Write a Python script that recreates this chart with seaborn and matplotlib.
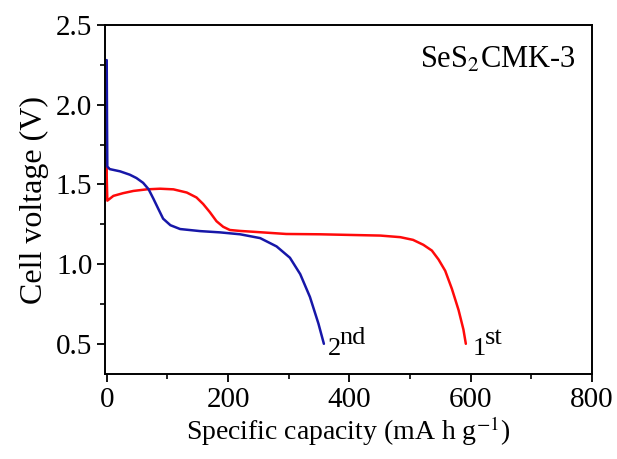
# Discharge profiles of SeS2/CMK-3, 1st and 2nd cycle

import pandas as pd
import matplotlib
matplotlib.use("Agg")
import matplotlib.pyplot as plt
import seaborn as sns
from matplotlib.ticker import MultipleLocator

# Values (capacity in mA h g-1, voltage in V)
cap_1st = [0, 0, 1, 11, 27, 44, 66, 88, 110, 132, 148, 159, 170, 181, 192, 203, 220, 241, 296, 352, 401,
           451, 484, 505, 522, 536, 547, 558, 569, 580, 588, 592]
volt_1st = [1.694, 1.55, 1.398, 1.428, 1.445, 1.459, 1.469, 1.473, 1.469, 1.449, 1.418, 1.377, 1.326, 1.269, 1.234, 1.214, 1.208, 1.203, 1.189, 1.187, 1.183,
            1.179, 1.169, 1.152, 1.121, 1.085, 1.029, 0.958, 0.845, 0.712, 0.59, 0.50]

cap_2nd = [0, 0.5, 1, 5, 22, 38, 49, 60, 69, 77, 85, 93, 105, 121, 154, 187, 220, 253, 280, 302, 319, 335, 349, 358]
volt_2nd = [2.28, 1.9, 1.612, 1.596, 1.582, 1.561, 1.54, 1.51, 1.47, 1.41, 1.347, 1.285, 1.244, 1.22, 1.207, 1.199, 1.187, 1.163, 1.111, 1.04, 0.937, 0.794, 0.627, 0.50]

cycle_base = ["1", "2"]
cycle_sup = ["st", "nd"]
sample_name = "SeS$_2$CMK-3"

df = pd.concat([
    pd.DataFrame({"cap": cap_1st, "volt": volt_1st, "cycle": "1st"}),
    pd.DataFrame({"cap": cap_2nd, "volt": volt_2nd, "cycle": "2nd"}),
])

sns.set_style("ticks")
plt.rcParams["font.family"] = ["Liberation Serif", "DejaVu Serif"]
plt.rcParams["mathtext.fontset"] = "stix"
plt.rcParams["text.color"] = "black"
plt.rcParams["axes.labelcolor"] = "black"
plt.rcParams["xtick.color"] = "black"
plt.rcParams["ytick.color"] = "black"

fig = plt.figure(figsize=(6.17, 4.59), dpi=100)
ax = fig.add_axes([0.170, 0.185, 0.7895, 0.7605])

sns.lineplot(data=df, x="cap", y="volt", hue="cycle", sort=False, estimator=None,
             palette={"1st": "#ff0a0a", "2nd": "#1717a8"}, linewidth=1.8, legend=False, ax=ax)

ax.set_xlim(-3, 800)
ax.set_ylim(0.31, 2.5)
ax.xaxis.set_major_locator(MultipleLocator(200))
ax.xaxis.set_minor_locator(MultipleLocator(100))
ax.yaxis.set_major_locator(MultipleLocator(0.5))
ax.yaxis.set_minor_locator(MultipleLocator(0.25))
ax.tick_params(which="major", direction="out", length=6, width=1.3, labelsize=21, pad=3)
ax.tick_params(which="minor", direction="out", length=3.5, width=1.2)
for pos in ax.spines:
    ax.spines[pos].set_linewidth(1.4)
    ax.spines[pos].set_color("black")

ax.set_xlabel("Specific capacity (mA h g$^{-1}$)", fontsize=20, labelpad=1)
ax.set_ylabel("Cell voltage (V)", fontsize=23, labelpad=5)

# cycle labels next to the curve ends, superscripts at full size like the original
for caps, volts, base, sup, dx in [(cap_1st, volt_1st, cycle_base[0], cycle_sup[0], 5),
                                   (cap_2nd, volt_2nd, cycle_base[1], cycle_sup[1], 3)]:
    ax.annotate(base, xy=(caps[-1], volts[-1]), xytext=(dx, -8), textcoords="offset points",
                fontsize=19, ha="left", va="baseline")
    ax.annotate(sup, xy=(caps[-1], volts[-1]), xytext=(dx + 8.5, 0), textcoords="offset points",
                fontsize=19, ha="left", va="baseline")

ax.text(0.966, 0.90, sample_name, transform=ax.transAxes, fontsize=22, ha="right", va="center")

plt.savefig("out.png", dpi=100)
plt.close()
